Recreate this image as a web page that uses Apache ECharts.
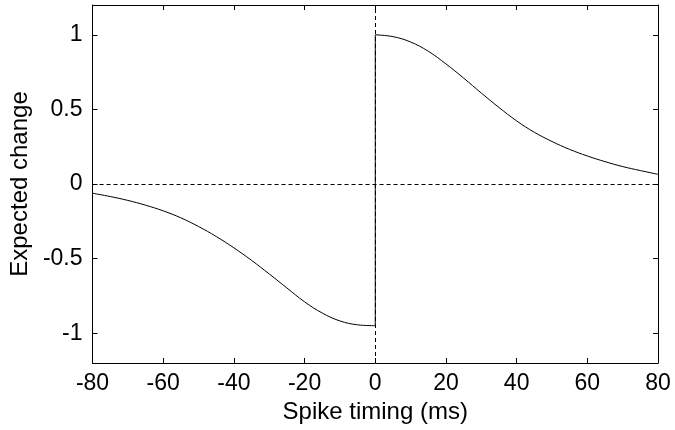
<!DOCTYPE html>
<html>
<head>
<meta charset="utf-8">
<script src="https://cdn.jsdelivr.net/npm/echarts@6/dist/echarts.min.js"></script>
<style>
  html, body { margin: 0; padding: 0; background: #fff; }
  #chart { width: 675px; height: 430px; }
</style>
</head>
<body>
<div id="chart"></div>
<script>
// values
const preTimes = [-80, -75, -70, -65, -60, -55, -50, -45, -40, -35, -30, -25, -20, -15, -10, -5, 0];
const preChange = [-0.062, -0.084, -0.11, -0.142, -0.18, -0.227, -0.285, -0.352, -0.428, -0.512, -0.603, -0.697, -0.79, -0.865, -0.918, -0.944, -0.95];
const postTimes = [0, 5, 10, 15, 20, 25, 30, 35, 40, 45, 50, 55, 60, 65, 70, 75, 80];
const postChange = [1.0, 0.988, 0.952, 0.89, 0.805, 0.71, 0.61, 0.513, 0.423, 0.347, 0.285, 0.232, 0.188, 0.15, 0.117, 0.09, 0.065];
const yTicks = [-1, -0.5, 0, 0.5, 1];

const font = 'Liberation Sans, Arial, Helvetica, sans-serif';
const pair = (xs, ys) => xs.map((x, i) => [x, ys[i]]);

window.addEventListener("DOMContentLoaded", () => {
    const chart = echarts.init(document.getElementById('chart'));

    const baseX = {
        type: 'value', min: -80, max: 80, interval: 20,
        axisLine: { show: true, onZero: false, lineStyle: { color: '#000', width: 1 } },
        axisTick: { show: true, inside: true, length: 5, lineStyle: { color: '#000' } },
        splitLine: { show: false }
    };
    const baseY = {
        type: 'value', min: -1.2, max: 1.2,
        axisLine: { show: true, onZero: false, lineStyle: { color: '#000', width: 1 } },
        axisTick: { show: true, inside: true, length: 5, customValues: yTicks, lineStyle: { color: '#000' } },
        splitLine: { show: false }
    };

    chart.setOption({
        animation: false,
        grid: { left: 91, right: 17, top: 5, bottom: 67 },
        xAxis: [
            Object.assign({}, baseX, {
                position: 'bottom',
                name: 'Spike timing (ms)', nameLocation: 'middle', nameGap: 34,
                nameTextStyle: { color: '#000', fontSize: 24, fontFamily: font },
                axisLabel: { color: '#000', fontSize: 23, fontFamily: font, margin: 9 }
            }),
            Object.assign({}, baseX, { position: 'top', axisLabel: { show: false } })
        ],
        yAxis: [
            Object.assign({}, baseY, {
                position: 'left',
                name: 'Expected change', nameLocation: 'middle', nameGap: 60,
                nameTextStyle: { color: '#000', fontSize: 24, fontFamily: font },
                axisLabel: { color: '#000', fontSize: 23, fontFamily: font, margin: 10, customValues: yTicks }
            }),
            Object.assign({}, baseY, { position: 'right', axisLabel: { show: false } })
        ],
        series: [
            {
                type: 'line', data: pair(preTimes, preChange), smooth: 0.4, showSymbol: false,
                lineStyle: { color: '#000', width: 1 },
                markLine: {
                    silent: true, symbol: 'none', label: { show: false },
                    lineStyle: { color: '#000', type: [4, 3], width: 1 },
                    data: [{ yAxis: 0 }, { xAxis: 0 }]
                }
            },
            {
                type: 'line', data: [[0, preChange[preChange.length - 1]], [0, postChange[0]]],
                showSymbol: false, lineStyle: { color: '#000', width: 1 }
            },
            {
                type: 'line', data: pair(postTimes, postChange), smooth: 0.4, showSymbol: false,
                lineStyle: { color: '#000', width: 1 }
            }
        ]
    });
});
</script>
</body>
</html>
